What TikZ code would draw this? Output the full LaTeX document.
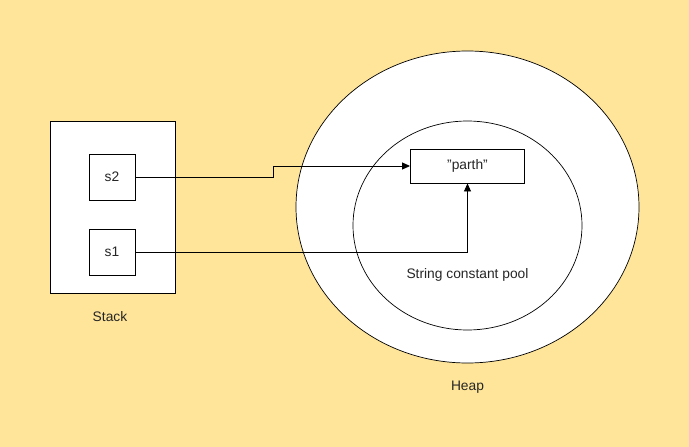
\documentclass[tikz,border=0pt]{standalone}
\usepackage{fontspec}
\setmainfont{Liberation Sans}
\usetikzlibrary{arrows.meta,shapes.geometric}
\definecolor{bgyellow}{HTML}{FFE599}
\definecolor{txt}{HTML}{262626}
\begin{document}
\begin{tikzpicture}[x=1pt,y=-1pt,
  every node/.style={font=\fontsize{13.8}{16}\selectfont, text=txt},
  box/.style={draw=black, fill=white, line width=0.9pt, inner sep=0pt},
  lbl/.style={inner sep=0pt},
  conn/.style={draw=black, line width=0.9pt, -{Triangle[length=8pt,width=7pt]}}]
\path[fill=bgyellow] (0,0) rectangle (689,447);
\useasboundingbox (0,0) rectangle (689,447);
% stack
\node[box, minimum width=125pt, minimum height=172pt] (stack) at (112.5,207) {};
\node[box, minimum width=46pt, minimum height=46pt] (s2) at (112,177) {s2};
\node[box, minimum width=46pt, minimum height=46pt] (s1) at (112,252) {s1};
\node[lbl] (stacklbl) at (110,317) {Stack};
% heap
\node[draw=black, fill=white, ellipse, minimum width=343pt, minimum height=312pt, inner sep=0pt, line width=0.7pt] (heap) at (467.5,207) {};
\node[draw=black, fill=white, ellipse, minimum width=229pt, minimum height=209pt, inner sep=0pt, line width=0.7pt] (pool) at (467.5,225.5) {};
\node[box, minimum width=114pt, minimum height=34pt] (parth) at (467.5,166) {"parth"};
\node[lbl] (poollbl) at (467.5,275) {String constant pool};
\node[lbl] (heaplbl) at (467.5,387) {Heap};
% connectors
\coordinate (b1) at (273,177);
\coordinate (b2) at (273,166);
\draw[conn] (s2.east) -- (b1) -- (b2) -- (parth.west);
\draw[conn] (s1.east) -- (s1.east -| parth.south) -- (parth.south);
\end{tikzpicture}
\end{document}
